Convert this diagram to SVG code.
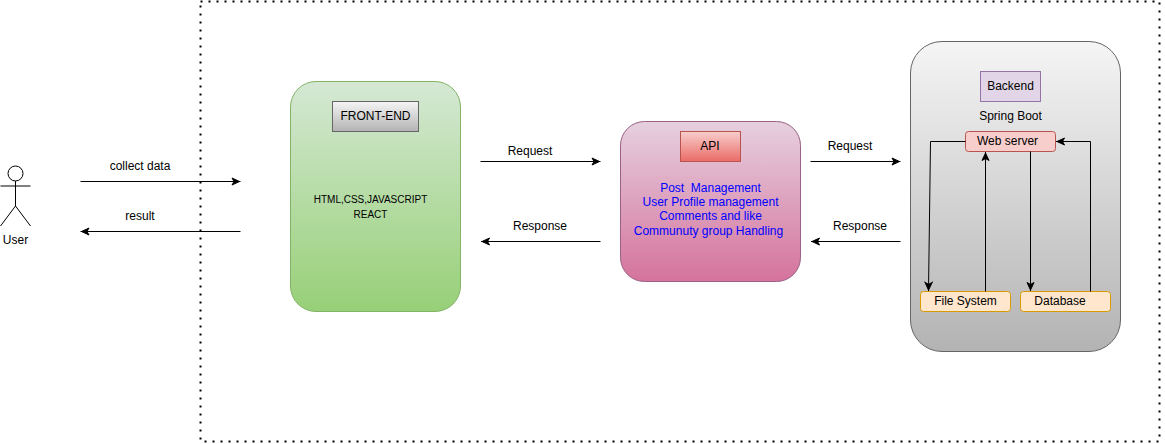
<svg xmlns="http://www.w3.org/2000/svg" width="1165" height="444" viewBox="0 0 1165 444">
<style>
text{font-family:"Liberation Sans",Arial,sans-serif;font-size:12px;fill:#000;text-anchor:middle;white-space:pre}
.c{fill:none;stroke:#000;stroke-width:1;marker-end:url(#a)}
.a{fill:#00f}
.s{fill:#ffe6cc;stroke:#d79b00}
</style>
<defs>
<marker id="a" markerUnits="userSpaceOnUse" markerWidth="10" markerHeight="10" refX="9" refY="4" orient="auto" overflow="visible"><path d="M0.500 0.500L8 4L0.500 7.500L2.500 4Z" fill="#000" stroke="#000"/></marker>
<linearGradient id="gG" x1="0" y1="0" x2="0" y2="1"><stop offset="0" stop-color="#d5e8d4"/><stop offset="1" stop-color="#97d077"/></linearGradient>
<linearGradient id="gF" x1="0" y1="0" x2="0" y2="1"><stop offset="0" stop-color="#f5f5f5"/><stop offset="1" stop-color="#b3b3b3"/></linearGradient>
<linearGradient id="gP" x1="0" y1="0" x2="0" y2="1"><stop offset="0" stop-color="#e6d0de"/><stop offset="1" stop-color="#d5739d"/></linearGradient>
<linearGradient id="gR" x1="0" y1="0" x2="0" y2="1"><stop offset="0" stop-color="#f8cecc"/><stop offset="1" stop-color="#ea6b66"/></linearGradient>
</defs>
<g id="boundary"><rect x="200.500" y="1.500" width="959" height="440" fill="none" stroke="#000" stroke-width="2" stroke-dasharray="2 6"/></g>
<g id="user" fill="none" stroke="#000">
<circle cx="15.500" cy="173.500" r="7.500"/>
<path d="M15.500 181V206M0.500 186H30.500M15.500 206L0.500 226M15.500 206L30.500 226"/>
<text x="15.500" y="244" stroke="none">User</text>
</g>
<g id="frontend">
<rect x="290.500" y="81.500" width="170" height="230" rx="25.500" fill="url(#gG)" stroke="#82b366"/>
<rect x="332.500" y="101.500" width="86" height="30" fill="url(#gF)" stroke="#666"/>
<text x="375.500" y="120">FRONT-END</text>
<text x="370.500" y="203" style="font-size:10px">HTML,CSS,JAVASCRIPT</text>
<text x="370.500" y="218" style="font-size:10px">REACT</text>
</g>
<g id="api">
<rect x="620.500" y="121.500" width="180" height="160" rx="24" fill="url(#gP)" stroke="#996185"/>
<rect x="680.500" y="131.500" width="60" height="30" fill="url(#gR)" stroke="#b85450"/>
<text x="710" y="150">API</text>
<text class="a" x="710.500" y="192">Post  Management</text>
<text class="a" x="710.500" y="206">User Profile management</text>
<text class="a" x="710.500" y="220">Comments and like</text>
<text class="a" x="708.500" y="235">Communuty group Handling</text>
</g>
<g id="backend">
<rect x="910.500" y="41.500" width="210" height="310" rx="31.500" fill="url(#gF)" stroke="#666"/>
<rect x="980.500" y="71.500" width="60" height="30" fill="#e1d5e7" stroke="#9673a6"/>
<text x="1010.500" y="90">Backend</text>
<text x="1010.500" y="120">Spring Boot</text>
</g>
<g id="webserver"><rect x="965.500" y="131.500" width="90" height="20" rx="3" fill="#f8cecc" stroke="#b85450"/><text x="1007.500" y="145">Web server</text></g>
<g id="filesystem"><rect class="s" x="920.500" y="291.500" width="90" height="20" rx="3"/><text x="965.500" y="305">File System</text></g>
<g id="database"><rect class="s" x="1020.500" y="291.500" width="90" height="20" rx="3"/><text x="1060" y="305">Database</text></g>
<g id="connectors">
<path class="c" d="M80.500 181.500H240.500"/>
<path class="c" d="M240.500 231.500H80.500"/>
<path class="c" d="M480.500 161.500H600.500"/>
<path class="c" d="M600.500 241.500H481"/>
<path class="c" d="M810.500 161.500H900.500"/>
<path class="c" d="M900.500 241.500H811"/>
<path class="c" d="M965.500 141.500H930.500L928.500 291"/>
<path class="c" d="M985.500 291.500V152"/>
<path class="c" d="M1030.500 151.500V291"/>
<path class="c" d="M1090.500 291.500V141.500H1056"/>
<text x="140" y="170">collect data</text>
<text x="140" y="220">result</text>
<text x="530" y="155">Request</text>
<text x="540" y="230">Response</text>
<text x="850" y="150">Request</text>
<text x="860" y="230">Response</text>
</g>
</svg>
